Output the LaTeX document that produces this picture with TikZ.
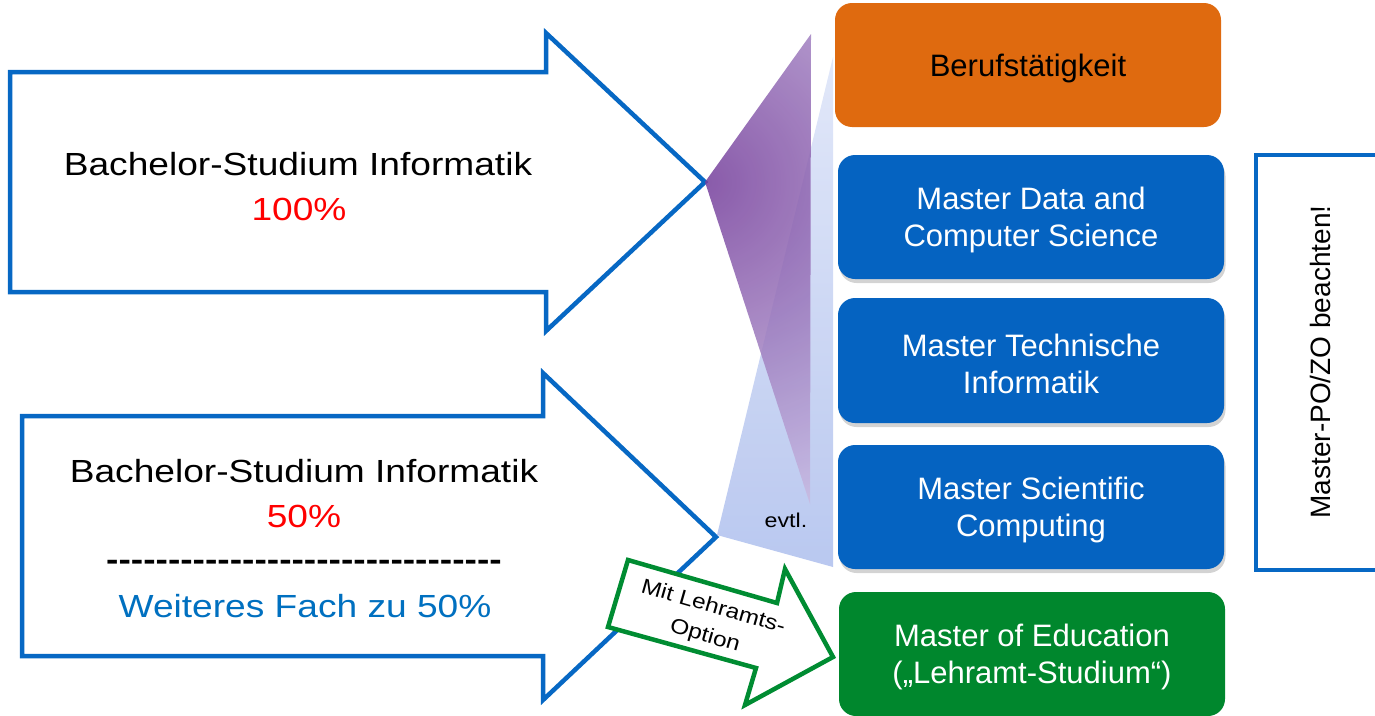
\documentclass[tikz,border=0pt]{standalone}
\usepackage{fontspec}
\setmainfont{Liberation Sans}
\newfontfamily\widefont{Liberation Sans}[FakeStretch=1.16]
\usetikzlibrary{shadows}
\definecolor{arrowblue}{RGB}{7,104,196}
\definecolor{boxblue}{RGB}{5,99,193}
\definecolor{boxorange}{RGB}{223,106,15}
\definecolor{boxgreen}{RGB}{0,135,45}
\definecolor{arrowgreen}{RGB}{0,140,50}
\definecolor{pctred}{RGB}{255,0,0}
\definecolor{fachblue}{RGB}{0,112,192}
\definecolor{lbtop}{RGB}{222,229,248}
\definecolor{lbbot}{RGB}{178,194,238}
\definecolor{purpledark}{RGB}{118,64,156}
\definecolor{purplelight}{RGB}{208,198,232}
\begin{document}
\begin{tikzpicture}[x=1pt,y=-1pt,
  bigarrow/.style={draw=arrowblue,line width=4.5pt,line join=miter,fill=white},
  masterbox/.style={rounded corners=17pt,minimum width=386pt,minimum height=124pt,inner sep=0pt},
  bluebox/.style={masterbox,fill=boxblue,drop shadow={shadow xshift=1.5pt,shadow yshift=-4pt,opacity=0.35}},
  boxtext/.style={inner sep=0pt,align=center,yshift=-3pt,font=\fontsize{31}{37}\selectfont},
  lefttext/.style={anchor=base,inner sep=0pt,font=\widefont\fontsize{32}{38}\selectfont},
]
\useasboundingbox (0,0) rectangle (1375,715);

% big blue arrows
\draw[bigarrow] (10,72) -- (546,72) -- (546,33) -- (705,182) -- (546,331) -- (546,292) -- (10,292) -- cycle;
\draw[bigarrow] (22,416) -- (543,416) -- (543,373) -- (716,537) -- (543,700) -- (543,656) -- (22,656) -- cycle;

% fan triangles
\shade[top color=lbtop,bottom color=lbbot,fill opacity=0.9] (717,535) -- (833,57) -- (833,567) -- cycle;
\begin{scope}
  \clip (705,182) -- (811,34) -- (810,504) -- cycle;
  \shade[inner color=purpledark,outer color=purplelight,fill opacity=0.86] (705,182) circle (370);
\end{scope}
\node[font=\widefont\fontsize{20}{24}\selectfont,inner sep=0pt] (evtl) at (786,520) {evtl.};

% left texts
\node[lefttext] (b1) at (298,175) {Bachelor-Studium Informatik};
\node[lefttext,text=pctred] (p1) at (299,220) {100\%};
\node[lefttext] (b2) at (304,482) {Bachelor-Studium Informatik};
\node[lefttext,text=pctred] (p2) at (304,527) {50\%};
\node[lefttext,font=\widefont\bfseries\fontsize{32}{38}\selectfont] (dashes) at (304,570) {-{}-{}-{}-{}-{}-{}-{}-{}-{}-{}-{}-{}-{}-{}-{}-{}-{}-{}-{}-{}-{}-{}-{}-{}-{}-{}-{}-{}-{}-{}-{}-{}};
\node[lefttext,text=fachblue] (w2) at (305,617) {Weiteres Fach zu 50\%};

% green arrow
\draw[draw=arrowgreen,line width=4.5pt,line join=miter,fill=white] (628,560) -- (777,603) -- (785,569) -- (833,657) -- (745,705) -- (756,668) -- (608,627) -- cycle;
\node[rotate=-16,align=center,inner sep=0pt,font=\widefont\fontsize{21}{30}\selectfont] (lehr) at (709,622) {Mit Lehramts-\\Option};

% right boxes
\node[masterbox,fill=boxorange] (beruf) at (1028,65) {};
\node[boxtext,text=black] (berufT) at (beruf.center) {Berufstätigkeit};
\node[bluebox] (dcs) at (1031,217) {};
\node[boxtext,text=white] (dcsT) at (dcs.center) {Master Data and\\Computer Science};
\node[bluebox,minimum height=125pt] (ti) at (1031,360.5) {};
\node[boxtext,text=white] (tiT) at (ti.center) {Master Technische\\Informatik};
\node[bluebox] (sc) at (1031,507) {};
\node[boxtext,text=white] (scT) at (sc.center) {Master Scientific\\Computing};
\node[masterbox,fill=boxgreen] (edu) at (1032,654) {};
\node[boxtext,text=white] (eduT) at (edu.center) {Master of Education\\(„Lehramt-Studium“)};

% bracket
\coordinate (brtr) at (1380,155);
\coordinate (brtl) at (1256,155);
\coordinate (brbl) at (1256,570);
\coordinate (brbr) at (1380,570);
\draw[arrowblue,line width=4.5pt,line join=miter] (brtr) -- (brtl) -- (brbl) -- (brbr);
\node[rotate=90,inner sep=0pt,font=\fontsize{28}{32}\selectfont] (po) at (1320,362) {Master-PO/ZO beachten!};
\end{tikzpicture}
\end{document}
